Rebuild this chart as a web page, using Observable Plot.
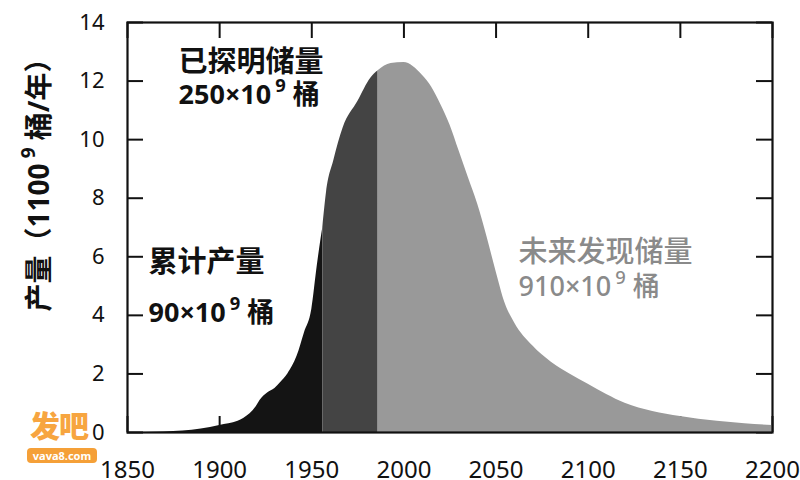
<!DOCTYPE html>
<html><head><meta charset="utf-8">
<script src="https://cdn.jsdelivr.net/npm/d3@7"></script>
<script src="https://cdn.jsdelivr.net/npm/@observablehq/plot@0.6"></script>
<style>
body{margin:0;background:#fff;}
#wrap{position:relative;width:800px;height:480px;overflow:hidden;font-family:"Noto Sans","Noto Sans CJK SC",sans-serif;}
.wm1{position:absolute;left:30px;top:406px;font-size:30px;font-weight:900;color:#f7a540;letter-spacing:-1px;line-height:36px;font-family:"Noto Sans CJK SC",sans-serif;}
.wm2{position:absolute;left:27px;top:448px;width:70px;height:15px;border-radius:4px;background:#f5a038;color:#fff;font-size:11px;font-weight:bold;line-height:15px;text-align:center;}
.ytitle{position:absolute;left:35px;top:178px;transform:translate(-50%,-50%) rotate(-90deg);white-space:nowrap;font-size:28px;font-weight:bold;color:#111;line-height:32px;}
.ytitle sup{font-size:19px;position:relative;top:-4px;margin-left:5px;}
</style></head><body>
<div id="wrap"><div class="wm1">发吧</div><div class="wm2">vava8.com</div></div>
<script>
// Annual production (10^9 barrels / year)
const years = [1850,1870,1880,1890,1900,1910,1913,1920,1922,1926,1930,1933,1937,1942,1946,1950,1953,1955,1956,1958,1962,1967,1975,1982,1986,1993,2000,2005,2010,2015,2020,2025,2030,2035,2040,2045,2050,2055,2060,2070,2080,2090,2100,2110,2120,2135,2150,2170,2185,2200];
const production = [0,0.02,0.05,0.12,0.24,0.38,0.48,0.9,1.1,1.35,1.5,1.7,2.0,2.6,3.4,4.2,5.7,6.6,7.0,8.2,9.3,10.4,11.3,12.1,12.35,12.6,12.63,12.5,12.2,11.8,11.2,10.5,9.6,8.7,7.8,6.7,5.5,4.4,3.75,2.95,2.4,2.0,1.65,1.3,1.0,0.72,0.55,0.38,0.3,0.24];
// Phase boundaries (years) and names
const phaseBounds = [1850, 1956, 1986, 2200];
const phaseNames = ["累计产量", "已探明储量", "未来发现储量"];
const phaseColors = ["#141414", "#444444", "#999999"];
const xTicks = [1850,1900,1950,2000,2050,2100,2150,2200];
const yTicks = [0,2,4,6,8,10,12,14];
const yTitleMain = "产量（1100";
const yTitleSup = "9";
const yTitleRest = " 桶/年）";

const rows = [];
phaseNames.forEach((name, i) => {
  years.forEach((yr, j) => {
    if (yr >= phaseBounds[i] && yr <= phaseBounds[i + 1]) rows.push({year: yr, value: production[j], phase: name});
  });
});

const W = 800, H = 480, mt = 22, mb = 48, ml = 127, mr = 28;
const ph = H - mt - mb, pw = W - ml - mr, tl = 16;

const plot = Plot.plot({
  width: W, height: H,
  marginTop: mt, marginBottom: mb, marginLeft: ml, marginRight: mr,
  style: {fontFamily: '"Noto Sans","Noto Sans CJK SC",sans-serif', background: "transparent", color: "#111"},
  x: {domain: [1850, 2200]},
  y: {domain: [0, 14]},
  color: {domain: phaseNames, range: phaseColors},
  marks: [
    Plot.tickX(xTicks, {x: d => d, insetBottom: ph - tl, stroke: "#111", strokeWidth: 2}),
    Plot.tickX(xTicks, {x: d => d, insetTop: ph - tl, stroke: "#111", strokeWidth: 2}),
    Plot.tickY(yTicks, {y: d => d, insetRight: pw - tl, stroke: "#111", strokeWidth: 2}),
    Plot.tickY(yTicks, {y: d => d, insetLeft: pw - tl, stroke: "#111", strokeWidth: 2}),
    Plot.areaY(rows, {x: "year", y1: 0, y2: "value", z: "phase", fill: "phase", curve: "monotone-x"}),
    Plot.frame({stroke: "#111", strokeWidth: 2.2}),
    Plot.axisX(xTicks, {tickSize: 0, tickPadding: 28, fontSize: 24, label: null, tickFormat: d => String(d)}),
    Plot.axisY(yTicks, {tickSize: 0, tickPadding: 23, fontSize: 22, label: null}),
    Plot.text(["已探明储量"], {x: 1877.7, y: 12.63, textAnchor: "start", fontSize: 29, fontWeight: "bold", fill: "#111"}),
    Plot.text(["250×10^9 桶"], {x: 1877.7, y: 11.5, textAnchor: "start", fontSize: 27, fontWeight: "bold", fill: "#111"}),
    Plot.text(["累计产量"], {x: 1861.4, y: 5.8, textAnchor: "start", fontSize: 29, fontWeight: "bold", fill: "#111"}),
    Plot.text(["90×10^9 桶"], {x: 1861.4, y: 4.06, textAnchor: "start", fontSize: 27, fontWeight: "bold", fill: "#111"}),
    Plot.text(["未来发现储量"], {x: 2062.2, y: 6.15, textAnchor: "start", fontSize: 29, fontWeight: 500, fill: "#8a8a8a"}),
    Plot.text(["910×10^9 桶"], {x: 2062.2, y: 4.95, textAnchor: "start", fontSize: 27, fontWeight: 500, fill: "#8a8a8a"})
  ]
});

// render "^9" as a raised superscript
d3.select(plot).selectAll("text").each(function () {
  const t = this.textContent;
  if (!t.includes("^")) return;
  const i = t.indexOf("^");
  const a = t.slice(0, i), sup = t[i + 1], b = t.slice(i + 2);
  const fs = parseFloat(this.getAttribute("font-size")) || 27;
  const sel = d3.select(this);
  sel.text(null);
  sel.append("tspan").text(a);
  sel.append("tspan").attr("dx", fs * 0.15).attr("dy", -fs * 0.45).attr("font-size", fs * 0.68).text(sup);
  sel.append("tspan").attr("dy", fs * 0.45).text(b);
});

const wrap = document.getElementById("wrap");
wrap.prepend(plot);
plot.style.position = "absolute"; plot.style.left = "0"; plot.style.top = "0";
const yt = document.createElement("div");
yt.className = "ytitle";
yt.append(yTitleMain);
const s = document.createElement("sup"); s.textContent = yTitleSup; yt.append(s);
yt.append(yTitleRest);
wrap.append(yt);
</script>
</body></html>
